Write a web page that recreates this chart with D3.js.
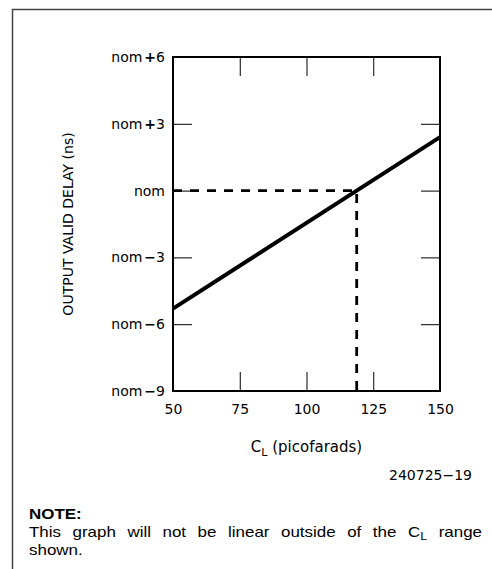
<!DOCTYPE html>
<html>
<head>
<meta charset="utf-8">
<script src="https://cdn.jsdelivr.net/npm/d3@7"></script>
<style>
  body { margin: 0; background: #fff; }
  svg { display: block; font-family: "DejaVu Sans", sans-serif; }
</style>
</head>
<body>
<div id="chart"></div>
<script>
// values
const capacitance = [50, 150];        // C_L, pF
const delay = [-5.3, 2.4];            // ns relative to nom
const xTicks = [50, 75, 100, 125, 150];
const yTicks = [6, 3, 0, -3, -6, -9];
const yTickLabels = ["nom +6", "nom +3", "nom", "nom \u22123", "nom \u22126", "nom \u22129"];
const nominalCL = 118.8;               // where the line meets nom
const figureId = "240725\u221219";

const W = 492, H = 569;
const margin = { top: 57, left: 173, right: 52, bottom: 178 };
const width = W - margin.left - margin.right;
const height = H - margin.top - margin.bottom;
const chartFont = "\"DejaVu Sans\", sans-serif";
const noteFont = "\"Liberation Sans\", Arial, sans-serif";

const svg = d3.select("#chart").append("svg")
    .attr("width", W)
    .attr("height", H);

// page border (top + left only)
svg.append("path")
    .attr("d", `M12.5,${H} V9.5 H${W}`)
    .attr("fill", "none")
    .attr("stroke", "#444")
    .attr("stroke-width", 1.5);

const g = svg.append("g")
    .attr("transform", `translate(${margin.left},${margin.top})`);

const x = d3.scaleLinear().domain([50, 150]).range([0, width]);
const y = d3.scaleLinear().domain([-9, 6]).range([height, 0]);

const inner = 19;
const xInner = xTicks.slice(1, -1);
const yInner = yTicks.slice(1, -1);

// inward ticks on all four sides
g.append("g").attr("transform", `translate(0,${height})`)
    .call(d3.axisBottom(x).tickValues(xInner).tickSize(-inner).tickFormat(""));
g.append("g")
    .call(d3.axisTop(x).tickValues(xInner).tickSize(-inner).tickFormat(""));
g.append("g")
    .call(d3.axisLeft(y).tickValues(yInner).tickSize(-inner).tickFormat(""));
g.append("g").attr("transform", `translate(${width},0)`)
    .call(d3.axisRight(y).tickValues(yInner).tickSize(-inner).tickFormat(""));
g.selectAll(".domain").remove();
g.selectAll(".tick line").attr("stroke", "#000").attr("stroke-width", 1);

// tick labels
const xLab = g.append("g").attr("transform", `translate(0,${height})`)
    .call(d3.axisBottom(x).tickValues(xTicks).tickSize(0).tickPadding(13));
const yLab = g.append("g")
    .call(d3.axisLeft(y).tickValues(yTicks).tickSize(0).tickPadding(8)
        .tickFormat((d, i) => yTickLabels[i]));
[xLab, yLab].forEach(a => {
    a.select(".domain").remove();
    a.selectAll("text").attr("font-size", 14).attr("fill", "#000")
        .attr("font-family", chartFont);
});
// make the sign heavier, like the original lettering
yLab.selectAll("text").each(function (d, i) {
    const parts = yTickLabels[i].split(" ");
    const t = d3.select(this).text(null);
    t.append("tspan").text(parts[0]);
    if (parts[1]) {
        t.append("tspan").attr("font-weight", "bold").attr("dx", 2).text(parts[1][0]);
        t.append("tspan").text(parts[1].slice(1));
    }
});

// frame
g.append("rect")
    .attr("width", width).attr("height", height)
    .attr("fill", "none").attr("stroke", "#000").attr("stroke-width", 2);

// dashed guides to nominal
g.append("path")
    .attr("d", `M${x(50)},${y(0)} H${x(nominalCL)} V${y(-9)}`)
    .attr("fill", "none")
    .attr("stroke", "#000")
    .attr("stroke-width", 2.8)
    .attr("stroke-dasharray", "9,8");

// data line
const line = d3.line().x(d => x(d[0])).y(d => y(d[1]));
g.append("path")
    .datum(capacitance.map((c, i) => [c, delay[i]]))
    .attr("d", line)
    .attr("fill", "none")
    .attr("stroke", "#000")
    .attr("stroke-width", 4);

// axis titles
svg.append("text")
    .attr("transform", `translate(73,${margin.top + height / 2}) rotate(-90)`)
    .attr("text-anchor", "middle")
    .attr("font-size", 14)
    .text("OUTPUT VALID DELAY (ns)");

const xt = svg.append("text")
    .attr("x", margin.left + width / 2)
    .attr("y", 452)
    .attr("text-anchor", "middle")
    .attr("font-size", 15);
xt.append("tspan").text("C");
xt.append("tspan").attr("font-size", 11).attr("dy", 4).text("L");
xt.append("tspan").attr("dy", -4).text(" (picofarads)");

svg.append("text")
    .attr("x", 472).attr("y", 480)
    .attr("text-anchor", "end")
    .attr("font-size", 14)
    .text(figureId);

// note, slightly widened like the original typeface
const noteG = svg.append("g")
    .attr("font-family", noteFont)
    .attr("transform", "translate(29,0) scale(1.13,1)");

noteG.append("text")
    .attr("x", 0).attr("y", 519)
    .attr("font-size", 15).attr("font-weight", "bold")
    .text("NOTE:");

const note = noteG.append("text")
    .attr("x", 0).attr("y", 537)
    .attr("font-size", 15);
note.append("tspan").text("This graph will not be linear outside of the C");
note.append("tspan").attr("font-size", 11).attr("dy", 3).text("L");
note.append("tspan").attr("dy", -3).text(" range");
const natural = note.node().getComputedTextLength();
note.attr("word-spacing", ((482 - 29) / 1.13 - natural) / 10);

noteG.append("text")
    .attr("x", 0).attr("y", 555)
    .attr("font-size", 15)
    .text("shown.");
</script>
</body>
</html>
